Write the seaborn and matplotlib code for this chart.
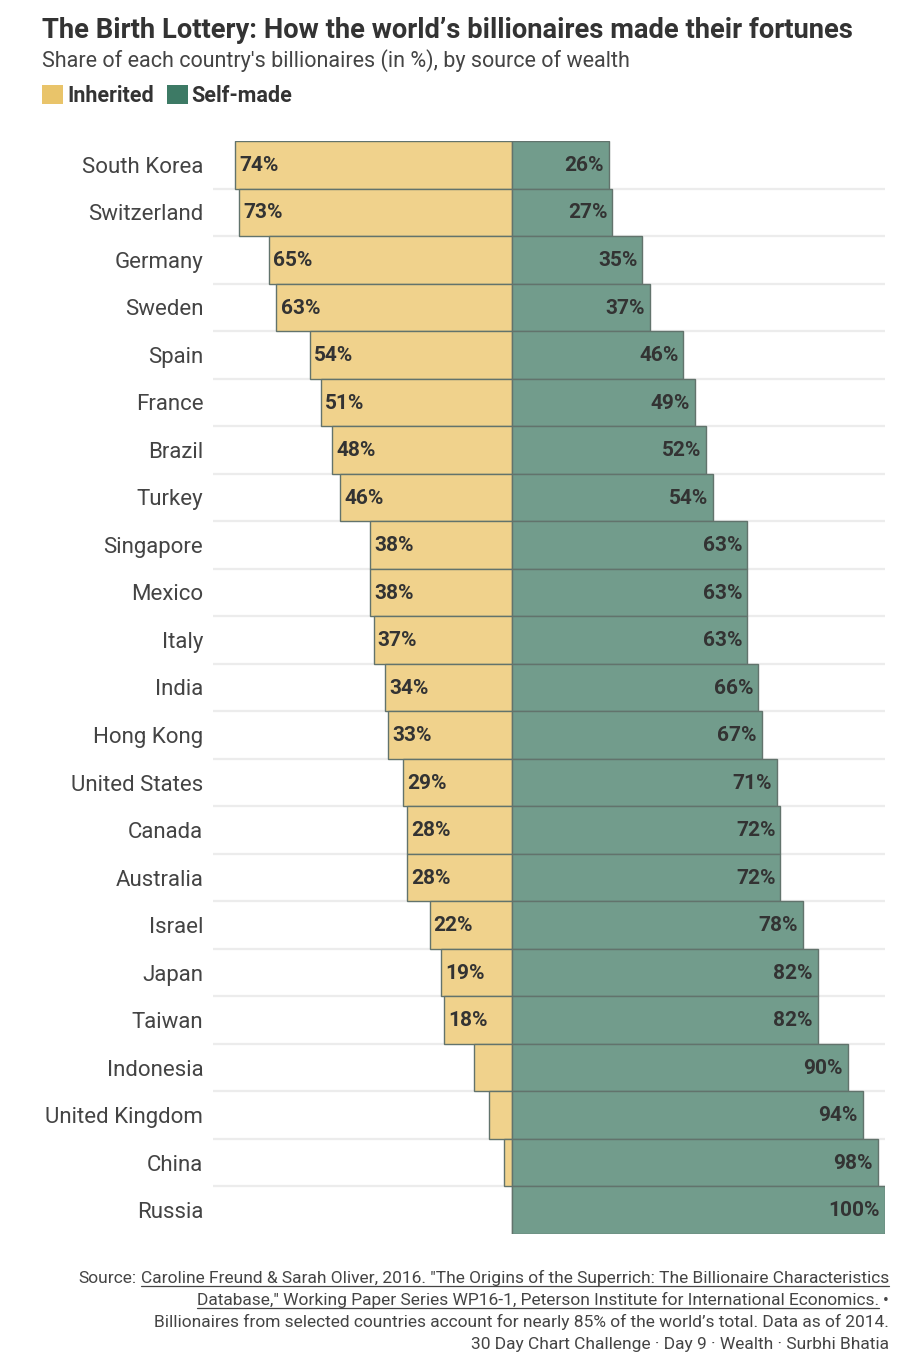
import matplotlib
matplotlib.use("Agg")
import matplotlib.pyplot as plt
from matplotlib.patches import Rectangle
from matplotlib.lines import Line2D
import seaborn as sns
import pandas as pd
import numpy as np

# --------------------------- DATA ---------------------------
countries = ["South Korea", "Switzerland", "Germany", "Sweden", "Spain", "France",
             "Brazil", "Turkey", "Singapore", "Mexico", "Italy", "India", "Hong Kong",
             "United States", "Canada", "Australia", "Israel", "Japan", "Taiwan",
             "Indonesia", "United Kingdom", "China", "Russia"]
inherited = [74, 73, 65, 63, 54, 51, 48, 46, 38, 38, 37, 34, 33, 29, 28, 28, 22, 19, 18, 10, 6, 2, 0]
self_made = [26, 27, 35, 37, 46, 49, 52, 54, 63, 63, 63, 66, 67, 71, 72, 72, 78, 82, 82, 90, 94, 98, 100]

df = pd.DataFrame({"country": countries, "inherited": inherited, "self_made": self_made})
df["inherited_neg"] = -df["inherited"]

# --------------------------- STYLE ---------------------------
sns.set_style("white")
plt.rcParams["font.family"] = ["Roboto", "DejaVu Sans"]

W, H = 916, 1356
INH_BAR = "#f0d28c"
SELF_BAR = "#729c8c"
INH_KEY = "#e9c46a"
SELF_KEY = "#3d7a65"
EDGE = "#62736c"
DARK = "#333333"
MID = "#444444"


def px(x, y):
    return x / W, 1 - y / H


fig = plt.figure(figsize=(W / 100, H / 100), dpi=100)
ax = fig.add_axes([213 / W, 1 - 1234 / H, 672 / W, (1234 - 141) / H])

# row separators
ax.hlines(np.arange(0.5, len(countries) - 1), -80, 100, color="#ececec", lw=1.6, zorder=0)

sns.barplot(data=df, x="inherited_neg", y="country", orient="h", width=1.0,
            color=INH_BAR, saturation=1, edgecolor=EDGE, linewidth=1,
            errorbar=None, ax=ax, zorder=2)
sns.barplot(data=df, x="self_made", y="country", orient="h", width=1.0,
            color=SELF_BAR, saturation=1, edgecolor=EDGE, linewidth=1,
            errorbar=None, ax=ax, zorder=2)

# value labels
for i, (v_in, v_self) in enumerate(zip(inherited, self_made)):
    if v_in >= 15:
        ax.annotate(f"{v_in}%", xy=(-v_in, i), xytext=(3, -0.5), textcoords="offset points",
                    ha="left", va="center", fontsize=15, fontweight="bold", color=DARK, zorder=3)
    ax.annotate(f"{v_self}%", xy=(v_self, i), xytext=(-3.5, -0.5), textcoords="offset points",
                ha="right", va="center", fontsize=15, fontweight="bold", color=DARK, zorder=3)

ax.set_xlim(-80, 100)
ax.set_ylim(len(countries) - 0.5, -0.5)
ax.set_xlabel("")
ax.set_ylabel("")
ax.set_xticks([])
ax.tick_params(axis="y", length=0, pad=7, labelsize=16, labelcolor=MID)
sns.despine(ax=ax, left=True, bottom=True)

# --------------------------- TITLES ---------------------------
fig.text(*px(42, 38.5), "The Birth Lottery: How the world\u2019s billionaires made their fortunes",
         fontsize=19.7, fontweight="bold", color=DARK, va="baseline", ha="left")
fig.text(*px(42, 67), "Share of each country's billionaires (in %), by source of wealth",
         fontsize=15.5, color=MID, va="baseline", ha="left")

# legend
fig.patches.append(Rectangle(px(42, 104), 21 / W, 19 / H, transform=fig.transFigure,
                             facecolor=INH_KEY, edgecolor="none"))
t_inh = fig.text(*px(67, 102), "Inherited", fontsize=15.5, fontweight="bold",
                 color=DARK, va="baseline", ha="left")

fig.canvas.draw()
renderer = fig.canvas.get_renderer()
x_end = t_inh.get_window_extent(renderer).x1
sx = x_end + 13
fig.patches.append(Rectangle((sx / W, 1 - 104 / H), 21 / W, 19 / H, transform=fig.transFigure,
                             facecolor=SELF_KEY, edgecolor="none"))
fig.text((sx + 25) / W, 1 - 102 / H, "Self-made", fontsize=15.5, fontweight="bold",
         color=DARK, va="baseline", ha="left")

# --------------------------- FOOTER ---------------------------
FS = 12.5
RX = 889
base = [1283, 1305, 1327, 1349]


def underline(t):
    bb = t.get_window_extent(renderer)
    y = t.get_position()[1] * H - 2.5
    fig.lines.append(Line2D([bb.x0 / W, bb.x1 / W], [y / H, y / H],
                            transform=fig.transFigure, color=MID, lw=0.9))
    return bb


u1 = fig.text(*px(RX, base[0]),
              "Caroline Freund & Sarah Oliver, 2016. \"The Origins of the Superrich: The Billionaire Characteristics",
              fontsize=FS, color=MID, ha="right", va="baseline")
fig.canvas.draw()
bb1 = underline(u1)
fig.text((bb1.x0 - 4) / W, 1 - base[0] / H, "Source:", fontsize=FS, color=MID,
         ha="right", va="baseline")

dot = fig.text(*px(RX, base[1]), "\u2022", fontsize=FS, color=MID, ha="right", va="baseline")
fig.canvas.draw()
dbb = dot.get_window_extent(renderer)
u2 = fig.text((dbb.x0 - 4) / W, 1 - base[1] / H,
              "Database,\" Working Paper Series WP16-1, Peterson Institute for International Economics.",
              fontsize=FS, color=MID, ha="right", va="baseline")
fig.canvas.draw()
underline(u2)

fig.text(*px(RX, base[2]),
         "Billionaires from selected countries account for nearly 85% of the world\u2019s total. Data as of 2014.",
         fontsize=FS, color=MID, ha="right", va="baseline")
fig.text(*px(RX, base[3]), "30 Day Chart Challenge \u00b7 Day 9 \u00b7 Wealth \u00b7 Surbhi Bhatia",
         fontsize=FS, color=MID, ha="right", va="baseline")

fig.savefig("out.png", dpi=100)
